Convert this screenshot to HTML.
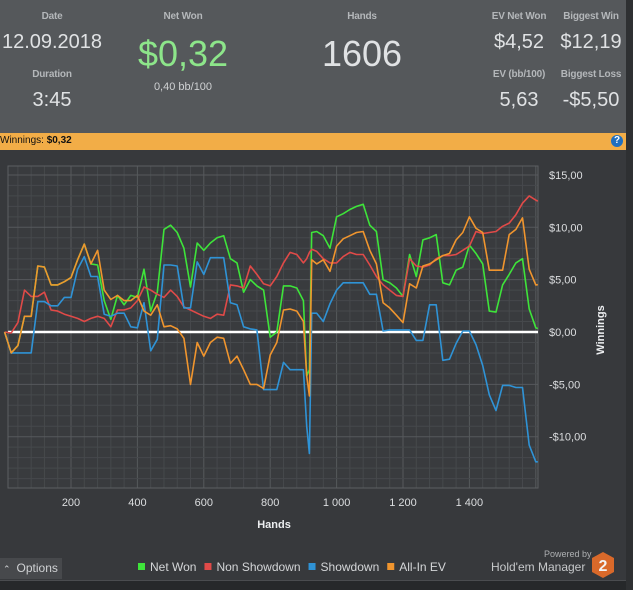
<!DOCTYPE html>
<html><head><meta charset="utf-8">
<style>
html,body{margin:0;padding:0;}
body{width:633px;height:590px;overflow:hidden;background:#26282a;font-family:"Liberation Sans",sans-serif;position:relative;}
.hdr{position:absolute;left:0;top:0;width:626px;height:133px;background:#55585b;}
.hdr-r{position:absolute;left:626px;top:0;width:7px;height:590px;background:#2e3032;}
.t{position:absolute;text-align:center;white-space:nowrap;transform:translateX(-50%);}
.lab{font-size:10px;color:#b4b7ba;font-weight:bold;letter-spacing:-0.2px;}
.val{font-size:20px;color:#e0e2e4;}
.big{font-size:36px;color:#e0e2e4;}
.bar{position:absolute;left:0;top:133px;width:626px;height:17px;background:#f2ad47;}
.panel{position:absolute;left:0;top:150px;width:626px;height:430px;background:#37393c;}
</style></head><body>
<div class="hdr">
  <div class="t lab" style="left:52px;top:11px">Date</div>
  <div class="t val" style="left:52px;top:31px">12.09.2018</div>
  <div class="t lab" style="left:52px;top:69px">Duration</div>
  <div class="t val" style="left:52px;top:89px">3:45</div>
  <div class="t lab" style="left:183px;top:11px">Net Won</div>
  <div class="t big" style="left:183px;top:33px;color:#8de58a">$0,32</div>
  <div class="t" style="left:183px;top:81px;font-size:11px;color:#cfd1d3">0,40 bb/100</div>
  <div class="t lab" style="left:362px;top:11px">Hands</div>
  <div class="t big" style="left:362px;top:33px">1606</div>
  <div class="t lab" style="left:519px;top:11px">EV Net Won</div>
  <div class="t val" style="left:519px;top:31px">$4,52</div>
  <div class="t lab" style="left:591px;top:11px">Biggest Win</div>
  <div class="t val" style="left:591px;top:31px">$12,19</div>
  <div class="t lab" style="left:519px;top:69px">EV (bb/100)</div>
  <div class="t val" style="left:519px;top:89px">5,63</div>
  <div class="t lab" style="left:591px;top:69px">Biggest Loss</div>
  <div class="t val" style="left:591px;top:89px">-$5,50</div>
</div>
<div class="hdr-r"></div>
<div class="bar">
  <span style="position:absolute;left:0;top:2px;font-size:10px;color:#111">Winnings: <b>$0,32</b></span>
  <div style="position:absolute;left:611px;top:2px;width:12px;height:12px;border-radius:50%;background:#1f6fc0;color:#fff;font-size:10px;font-weight:bold;text-align:center;line-height:12px">?</div>
</div>
<div class="panel"></div>
<svg id="chart" width="633" height="590" style="position:absolute;left:0;top:0"></svg>
<div style="position:absolute;left:0;top:558px;width:62px;height:21px;background:#47494c;color:#d0d2d4;font-size:12px;line-height:21px"><span style="font-size:9px;margin-left:3px;margin-right:6px">&#8963;</span>Options</div>
<div style="position:absolute;left:0;top:580px;width:626px;height:1px;background:#4a4c4f"></div>
<div style="position:absolute;left:544px;top:549px;font-size:9px;color:#aeb0b2">Powered by</div>
<div style="position:absolute;left:491px;top:560px;font-size:12px;color:#c6c8ca">Hold'em Manager</div>
<svg style="position:absolute;left:591px;top:551px" width="24" height="28"><polygon points="12,1 23,7 23,21 12,27 1,21 1,7" fill="#d9692a"/><text x="12" y="20" text-anchor="middle" font-family="Liberation Sans" font-weight="bold" font-size="16" fill="#f3f3f3">2</text></svg>
<script>
const hands=[0,20,40,60,80,100,120,140,160,180,200,220,240,260,280,300,320,340,360,380,400,420,440,460,480,500,520,540,560,580,600,620,640,660,680,700,720,740,760,780,800,820,840,860,880,900,910,918,925,940,960,980,1000,1020,1040,1060,1080,1100,1120,1140,1160,1180,1200,1220,1240,1260,1280,1300,1320,1340,1360,1380,1400,1420,1440,1460,1480,1500,1520,1540,1560,1580,1600,1606];
const netWon=[0,-2,-1.3,1.5,1.5,6.3,6.2,4.5,4.5,4.8,5.2,6.9,8.4,6.5,6.4,3.0,1.2,3.5,2.6,3.5,3.3,6.0,2.0,3.8,9.8,10.2,9.5,8.0,4.3,8.5,7.8,8.5,9.0,9.2,7.0,6.6,3.8,5.0,4.4,4.0,-0.5,0.0,4.4,4.4,4.2,3.0,-4.2,-3.6,9.5,9.6,9.2,8.0,11.0,11.3,11.7,12.0,12.2,10.2,9.6,5.0,4.7,4.2,3.4,7.4,5.3,8.8,9.0,9.3,4.7,4.5,5.9,6.2,8.3,7.5,6.5,2.0,1.9,4.5,5.5,6.6,7.0,2.2,0.4,0.32];
const nonShowdown=[0,-0.1,0.9,4.0,3.4,3.4,3.8,2.1,2.0,1.7,1.5,1.3,1.0,1.3,1.5,1.3,0.5,2.1,2.1,2.3,3.0,4.3,4.0,3.6,3.3,4.0,3.4,2.4,2.1,1.8,1.5,1.3,1.7,1.6,4.5,4.4,4.2,6.3,5.5,4.6,4.4,5.3,6.6,7.6,7.4,6.6,7.0,7.6,7.9,7.7,7.0,6.6,6.6,7.2,7.6,7.4,7.4,6.4,5.3,4.5,4.0,3.5,3.4,7.0,6.3,6.2,6.4,7.0,7.3,7.3,7.4,7.8,8.2,9.6,9.4,9.5,9.6,10.1,10.4,11.2,12.3,13.0,12.6,12.5];
const showdown=[0,-2,-2,-2,-2,2.9,2.9,2.5,2.5,3.3,3.3,6.0,7.2,5.3,5.3,1.7,1.5,1.8,1.8,0.5,0.4,2.8,-1.8,-0.7,6.4,6.4,6.3,2.3,2.3,6.7,5.5,7.1,7.1,7.1,2.8,2.6,0.5,0.3,0.2,-5.5,-5.5,-5.5,-2.9,-3.6,-3.6,-3.6,-9,-11.6,1.8,1.8,1.0,2.7,4.0,4.7,4.7,4.7,4.7,3.6,3.6,0.1,0.2,0.2,0.2,0.2,-0.8,-0.8,2.6,2.6,-2.7,-2.6,-1.1,0.1,0.1,-1.2,-3.2,-6.0,-7.5,-5.1,-5.1,-5.3,-5.3,-10.8,-12.4,-12.4];
const allInEV=[0,-2,-1.3,1.5,1.5,6.3,6.2,4.5,4.5,4.8,5.2,6.9,8.4,6.5,7.8,4.0,3.1,3.5,3.0,3.0,3.5,2.0,1.6,2.6,0.5,0.6,0.3,-0.6,-5.0,-1.0,-2.3,-1.0,-0.5,-0.6,-3.0,-2.3,-3.6,-5.0,-5.0,-5.4,-2.2,-1.0,2.1,2.2,2.0,1.0,-4.2,-6.1,6.9,6.5,6.9,5.8,8.2,8.9,9.2,9.5,9.6,7.8,6.5,2.8,2.3,1.6,0.9,4.6,4.2,6.3,6.5,6.9,7.3,7.5,8.8,9.5,11.0,9.9,9.5,5.9,5.9,5.9,9.3,9.8,10.9,6.0,4.5,4.52];
const xTicks=[200,400,600,800,1000,1200,1400];
const xTickLabels=["200","400","600","800","1 000","1 200","1 400"];
const yTicks=[15,10,5,0,-5,-10];
const yTickLabels=["$15,00","$10,00","$5,00","$0,00","-$5,00","-$10,00"];
const legendNames=["Net Won","Non Showdown","Showdown","All-In EV"];

const NS="http://www.w3.org/2000/svg";
const svg=document.getElementById('chart');
const L=8,R=538,T=166,B=488;
const X=h=>4.6+0.332*h;
const Y=v=>332-10.47*v;
function mk(tag,attrs,parent){const e=document.createElementNS(NS,tag);for(const k in attrs)e.setAttribute(k,attrs[k]);(parent||svg).appendChild(e);return e;}
const bg=mk('rect',{x:L,y:T,width:R-L,height:B-T,fill:'#393b3e'});


const grid=mk('g',{});


for(let h=40;h<=1600;h+=40){const x=X(h);if(x<=L||x>=R)continue;const major=h%200===0;
 mk('line',{x1:x,x2:x,y1:T,y2:B,stroke:major?'#56595c':'#46494c','stroke-width':1},grid);}
for(let v=-14;v<=15;v++){const y=Y(v);if(y<=T||y>=B)continue;const major=v%5===0;
 mk('line',{x1:L,x2:R,y1:y,y2:y,stroke:major?'#56595c':'#46494c','stroke-width':1},grid);}
mk('rect',{x:L,y:T,width:R-L,height:B-T,fill:'none',stroke:'#5c5f62','stroke-width':1});
xTicks.forEach((h,i)=>{const t=mk('text',{x:X(h),y:506,'text-anchor':'middle','font-size':11,fill:'#dcdee0','font-family':'Liberation Sans'});t.textContent=xTickLabels[i];
 
 });
yTicks.forEach((v,i)=>{const t=mk('text',{x:549,y:Y(v)+4,'font-size':11,fill:'#dcdee0','font-family':'Liberation Sans'});t.textContent=yTickLabels[i];
 
 });
const xt=mk('text',{x:274,y:528,'text-anchor':'middle','font-size':11,'font-weight':'bold',fill:'#eceef0','font-family':'Liberation Sans'});xt.textContent='Hands';


const yt=mk('text',{x:0,y:0,'text-anchor':'middle','font-size':11,'font-weight':'bold',fill:'#eceef0','font-family':'Liberation Sans',transform:'translate(604,330) rotate(-90)'});yt.textContent='Winnings';


const series=[[netWon,'#3ee43a','net-won-line'],[nonShowdown,'#e04a48','non-showdown-line'],[showdown,'#2f93d6','showdown-line'],[allInEV,'#f0952e','all-in-ev-line']];
const colors=['#3ee43a','#e04a48','#2f93d6','#f0952e'];
const zl=mk('line',{x1:L,x2:R,y1:Y(0),y2:Y(0),stroke:'#ffffff','stroke-width':2.5});


series.forEach(s=>{
 let d='';
 s[0].forEach((v,i)=>{d+=(i?'L':'M')+X(hands[i]).toFixed(1)+','+Y(v).toFixed(1);});
 const p=mk('path',{d:d,fill:'none',stroke:s[1],'stroke-width':1.6,'stroke-linejoin':'round'});
 
 
});
let lx=138;
legendNames.forEach((n,i)=>{
 const g=mk('g',{});
 
 
 mk('rect',{x:lx,y:563,width:7,height:7,fill:colors[i]},g);
 const t=mk('text',{x:lx+12,y:571,'font-size':12,fill:'#d4d6d8','font-family':'Liberation Sans'},g);t.textContent=n;
 lx+=12+t.getComputedTextLength()+8;
});
</script>
</body></html>
